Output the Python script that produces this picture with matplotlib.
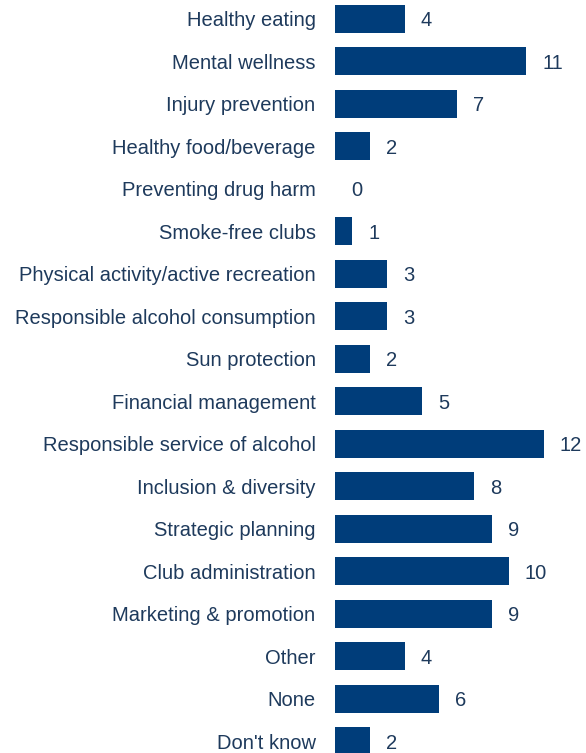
import matplotlib
matplotlib.use("Agg")
import matplotlib.pyplot as plt

categories = ["Healthy eating", "Mental wellness", "Injury prevention",
              "Healthy food/beverage", "Preventing drug harm", "Smoke-free clubs",
              "Physical activity/active recreation", "Responsible alcohol consumption",
              "Sun protection", "Financial management",
              "Responsible service of alcohol", "Inclusion & diversity",
              "Strategic planning", "Club administration", "Marketing & promotion",
              "Other", "None", "Don't know"]
values = [4, 11, 7, 2, 0, 1, 3, 3, 2, 5, 12, 8, 9, 10, 9, 4, 6, 2]

bar_color = "#003d7a"
text_color = "#1e3a5c"

plt.rcParams['font.family'] = ['Liberation Sans', 'DejaVu Sans']

fig = plt.figure(figsize=(5.86, 7.53), dpi=100)
ax = fig.add_axes([335 / 586, 0, 251 / 586, 1])

ypos = list(range(len(categories)))
ax.barh(ypos, values, height=0.66, color=bar_color)

for y, v in zip(ypos, values):
    ax.annotate(str(v), (v, y), xytext=(11.5, 0), textcoords="offset points",
                ha="left", va="center_baseline", fontsize=14.5, color=text_color)

ax.set_yticks(ypos)
ax.set_yticklabels(categories, fontsize=14.5, color=text_color, va="center_baseline")
ax.tick_params(axis="y", length=0, pad=14)
ax.set_xticks([])
ax.set_xlim(0, 251 / 17.4)
ax.set_ylim(17 + 12 / 42.5, -19 / 42.5)
for s in ax.spines.values():
    s.set_visible(False)

fig.savefig("out.png", dpi=100)
